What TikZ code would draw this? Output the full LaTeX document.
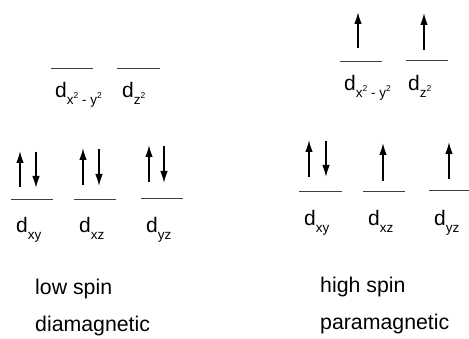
\documentclass[tikz,border=0pt]{standalone}
\usepackage{fontspec}
\setmainfont{Liberation Sans}
\usetikzlibrary{arrows.meta}
\newcommand{\dsq}{\raisebox{0.42em}{\fontsize{8.5}{8.5}\selectfont 2}}
\newcommand{\dorb}[1]{d\raisebox{-0.3em}{\fontsize{13.5}{13.5}\selectfont #1}}
\tikzset{
  lvl/.style={draw=black!75, line width=0.9pt},
  spin/.style={draw=black, line width=1.4pt, -{Latex[length=12pt,width=7.5pt]}},
  lab/.style={inner sep=0pt, anchor=base west, font=\fontsize{21}{21}\selectfont},
  txt/.style={inner sep=0pt, anchor=base west, font=\fontsize{21.3}{21.3}\selectfont}
}
\begin{document}
\begin{tikzpicture}[x=1pt,y=-1pt]
\useasboundingbox (0,0) rectangle (469,339);
% ---------- left: low spin ----------
\draw[lvl] (51,68) -- (93,68);
\draw[lvl] (117,68) -- (160,68);
\draw[lvl] (11,199) -- (53,199);
\draw[lvl] (74,199) -- (116,199);
\draw[lvl] (141,198) -- (183,198);
\node[lab] (Lx2y2) at (55,98) {\dorb{x\dsq\ - y\dsq}};
\node[lab] (Lz2) at (122,98) {\dorb{z\dsq}};
\node[lab] (Lxy) at (16,233) {\dorb{xy}};
\node[lab] (Lxz) at (79,233) {\dorb{xz}};
\node[lab] (Lyz) at (146,233) {\dorb{yz}};
\draw[spin] (20,187) -- (20,151);
\draw[spin] (36,152) -- (36,188);
\draw[spin] (83,185) -- (83,148);
\draw[spin] (99,149) -- (99,186);
\draw[spin] (149,182) -- (149,145);
\draw[spin] (164,146) -- (164,183);
\node[txt] (low) at (35,295) {low spin};
\node[txt] (dia) at (35,332) {diamagnetic};
% ---------- right: high spin ----------
\draw[lvl] (340,61) -- (382,61);
\draw[lvl] (406,60) -- (448,60);
\draw[lvl] (299,191) -- (342,191);
\draw[lvl] (363,191) -- (405,191);
\draw[lvl] (429,190) -- (469,190);
\node[lab] (Rx2y2) at (344,91) {\dorb{x\dsq\ - y\dsq}};
\node[lab] (Rz2) at (408,91) {\dorb{z\dsq}};
\node[lab] (Rxy) at (304,226) {\dorb{xy}};
\node[lab] (Rxz) at (368,226) {\dorb{xz}};
\node[lab] (Ryz) at (434,226) {\dorb{yz}};
\draw[spin] (358,48) -- (358,12);
\draw[spin] (424,50) -- (424,13);
\draw[spin] (309,177) -- (309,140);
\draw[spin] (326,141) -- (326,177);
\draw[spin] (383,181) -- (383,143);
\draw[spin] (449,179) -- (449,142);
\node[txt] (high) at (320,293) {high spin};
\node[txt] (para) at (320,330) {paramagnetic};
\end{tikzpicture}
\end{document}
